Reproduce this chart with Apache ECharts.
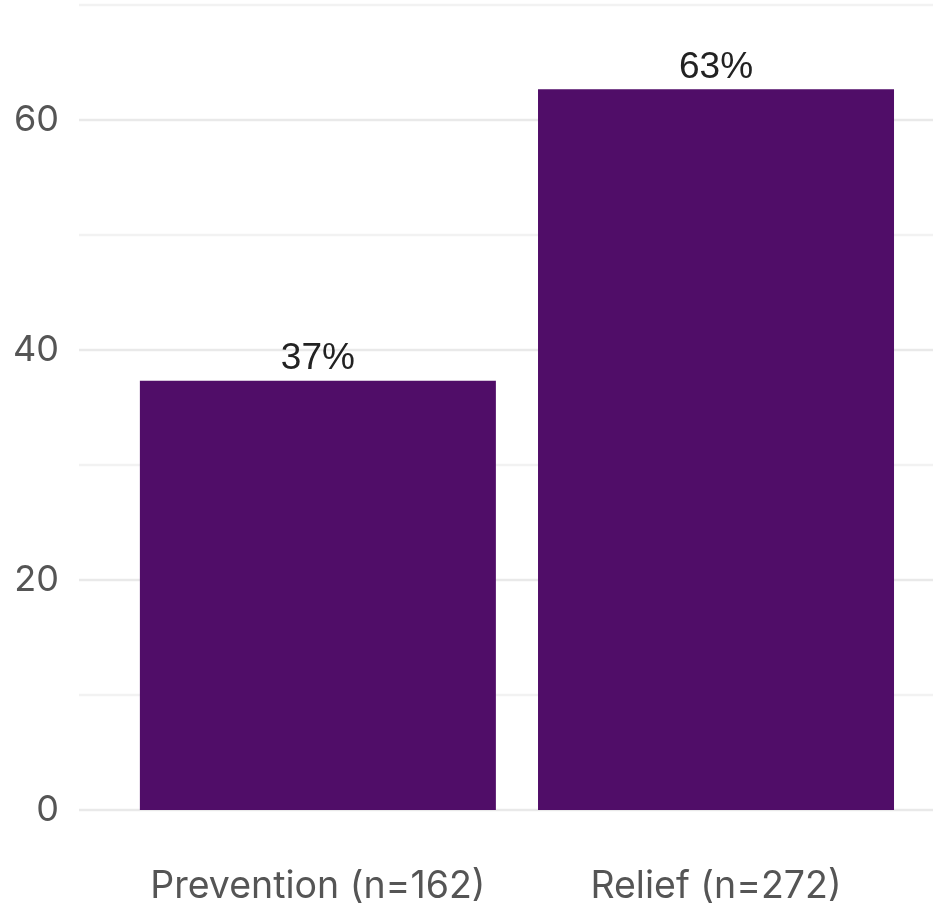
<!DOCTYPE html>
<html>
<head>
<meta charset="utf-8">
<script src="https://cdn.jsdelivr.net/npm/echarts@6/dist/echarts.min.js"></script>
<style>
  html, body { margin: 0; padding: 0; background: #ffffff; }
  #chart { width: 933px; height: 907px; }
</style>
</head>
<body>
<div id="chart"></div>
<script>
// Respondent groups and their sizes
const groups = ['Prevention', 'Relief'];
const counts = [162, 272];
const groupPositions = [1, 2];
const yTickValues = [0, 20, 40, 60];

const total = counts.reduce((a, b) => a + b, 0);
const shares = counts.map(c => c / total * 100);
const categoryLabels = groups.map((g, i) => g + ' (n=' + counts[i] + ')');

const axisFont = 'Inter, "Noto Sans", sans-serif';

const chart = echarts.init(document.getElementById('chart'), null, { renderer: 'canvas' });

chart.setOption({
  animation: false,
  backgroundColor: '#ffffff',
  grid: { left: 79, top: 5, right: 0, height: 805, containLabel: false },
  xAxis: {
    type: 'value',
    min: 0.4,
    max: 2.545,
    axisLine: { show: false },
    axisTick: { show: false },
    splitLine: { show: false },
    axisLabel: {
      customValues: groupPositions,
      formatter: v => categoryLabels[groupPositions.indexOf(Math.round(v))] || '',
      color: '#555555',
      fontFamily: axisFont,
      fontSize: 37.5,
      margin: 58
    }
  },
  yAxis: {
    type: 'value',
    min: 0,
    max: 70,
    interval: 10,
    axisLine: { show: false },
    axisTick: { show: false },
    splitLine: { lineStyle: { color: ['#e9e9e9', '#f2f2f2'], width: 2.4 } },
    axisLabel: {
      formatter: v => (yTickValues.indexOf(v) >= 0 ? String(v) : ''),
      color: '#555555',
      fontFamily: axisFont,
      fontSize: 36,
      margin: 20
    }
  },
  series: [{
    type: 'bar',
    barWidth: 356,
    data: groupPositions.map((x, i) => [x, shares[i]]),
    itemStyle: { color: '#500d68' },
    label: {
      show: true,
      position: 'top',
      distance: 3,
      formatter: p => Math.round(p.value[1]) + '%',
      color: '#222222',
      fontFamily: '"Liberation Sans", Arial, sans-serif',
      fontSize: 37
    }
  }]
});
</script>
</body>
</html>
